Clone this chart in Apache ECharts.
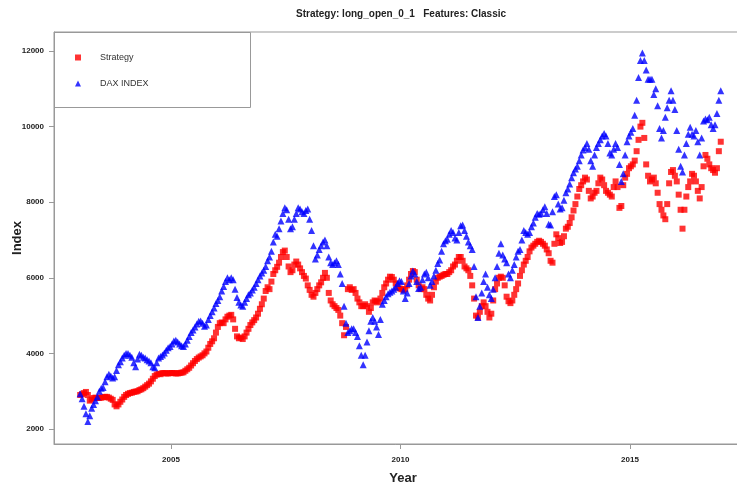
<!DOCTYPE html>
<html>
<head>
<meta charset="utf-8">
<script src="https://cdn.jsdelivr.net/npm/echarts@6/dist/echarts.min.js"></script>
<style>
  html, body { margin: 0; padding: 0; background: #fff; }
  #chart { width: 737px; height: 486px; }
</style>
</head>
<body>
<div id="chart"></div>
<script>
// Half-monthly index levels, January 2003 to December 2016 (24 per year)
const startYear = 2003;
const stepsPerYear = 24;

const strategy = [
  // 2003
  2900, 2920, 2950, 2980, 2900, 2750, 2780, 2820, 2830, 2820, 2820, 2830,
  2840, 2850, 2850, 2830, 2800, 2770, 2650, 2600, 2650, 2720, 2780, 2850,
  // 2004
  2900, 2930, 2950, 2960, 2980, 2990, 3000, 3030, 3050, 3080, 3120, 3160,
  3200, 3260, 3330, 3400, 3440, 3460, 3450, 3480, 3480, 3470, 3470, 3480,
  // 2005
  3480, 3480, 3470, 3470, 3480, 3490, 3500, 3540, 3580, 3620, 3680, 3740,
  3800, 3850, 3890, 3920, 3950, 4000, 4050, 4150, 4250, 4320, 4400, 4550,
  // 2006
  4700, 4800, 4820, 4800, 4900, 4970, 5000, 5020, 4900, 4650, 4450, 4400,
  4420, 4380, 4450, 4550, 4650, 4750, 4820, 4880, 4950, 5050, 5180, 5300,
  // 2007
  5450, 5650, 5750, 5700, 5900, 6100, 6200, 6290, 6400, 6550, 6680, 6720,
  6550, 6300, 6150, 6200, 6350, 6430, 6350, 6250, 6150, 6050, 5980, 5800,
  // 2008
  5680, 5550, 5500, 5600, 5700, 5800, 5880, 6000, 6130, 6000, 5600, 5400,
  5300, 5250, 5200, 5150, 5000, 4800, 4480, 4700, 5700, 5750, 5680, 5700,
  // 2009
  5600, 5450, 5350, 5250, 5250, 5300, 5250, 5100, 5200, 5350, 5400, 5380,
  5350, 5450, 5600, 5750, 5850, 5950, 6030, 6020, 5950, 5850, 5750, 5720,
  // 2010
  5700, 5680, 5700, 5800, 5950, 6100, 6180, 6150, 5950, 5800, 5700, 5750,
  5700, 5550, 5450, 5400, 5550, 5750, 5900, 6000, 6030, 6050, 6080, 6100,
  // 2011
  6100, 6150, 6200, 6300, 6350, 6450, 6550, 6550, 6450, 6300, 6250, 6200,
  6050, 5800, 5450, 5000, 4950, 5100, 5250, 5350, 5250, 5100, 4950, 5050,
  // 2012
  5400, 5700, 5850, 6000, 6030, 6000, 5800, 5500, 5380, 5330, 5400, 5550,
  5700, 5850, 6050, 6200, 6350, 6450, 6550, 6700, 6800, 6850, 6900, 6950,
  // 2013
  6980, 6950, 6900, 6850, 6750, 6650, 6450, 6400, 6900, 7150, 7050, 6920,
  6950, 7100, 7300, 7350, 7450, 7600, 7780, 7950, 8150, 8350, 8450, 8550,
  // 2014
  8650, 8600, 8300, 8100, 8150, 8250, 8300, 8500, 8650, 8600, 8450, 8300,
  8250, 8200, 8150, 8400, 8550, 8400, 7850, 7900, 8450, 8650, 8750, 8900,
  // 2015
  8950, 9000, 9100, 9350, 9650, 10000, 10100, 9700, 9000, 8700, 8550, 8600,
  8650, 8500, 8250, 7950, 7800, 7650, 7550, 7950, 8500, 8800, 8850, 8700,
  // 2016
  8550, 8200, 7800, 7300, 7800, 8150, 8400, 8550, 8750, 8700, 8550, 8300,
  8100, 8400, 8950, 9250, 9150, 9000, 8900, 8850, 8780, 8900, 9350, 9600
];

const dax = [
  // 2003
  2930, 2800, 2600, 2400, 2200, 2350, 2550, 2650, 2750, 2850, 3000, 3080,
  3100, 3250, 3380, 3450, 3400, 3350, 3380, 3550, 3700, 3780, 3880, 3950,
  // 2004
  4000, 4000, 3950, 3900, 3750, 3650, 3850, 3980, 3950, 3900, 3880, 3830,
  3800, 3750, 3650, 3620, 3750, 3880, 3920, 3960, 4010, 4080, 4150, 4180,
  // 2005
  4250, 4330, 4350, 4300, 4250, 4200, 4180, 4250, 4350, 4450, 4550, 4620,
  4700, 4780, 4850, 4860, 4800, 4720, 4750, 4900, 5000, 5100, 5200, 5320,
  // 2006
  5400, 5500, 5650, 5770, 5900, 6000, 5950, 6000, 5950, 5700, 5480, 5350,
  5280, 5250, 5350, 5450, 5550, 5600, 5680, 5750, 5850, 5950, 6050, 6130,
  // 2007
  6200, 6300, 6450, 6550, 6700, 6950, 7150, 7100, 7300, 7500, 7700, 7850,
  7800, 7550, 7300, 7350, 7550, 7700, 7850, 7820, 7750, 7700, 7780, 7820,
  // 2008
  7550, 7250, 6850, 6500, 6600, 6750, 6850, 6950, 7000, 6850, 6550, 6400,
  6350, 6400, 6450, 6350, 6100, 5850, 5250, 4800, 4550, 4600, 4650, 4650,
  // 2009
  4550, 4450, 4200, 3950, 3700, 3950, 4300, 4600, 4850, 4950, 4850, 4700,
  4500, 4900, 5300, 5400, 5500, 5580, 5620, 5650, 5700, 5750, 5850, 5920,
  // 2010
  5900, 5650, 5450, 5600, 5850, 6050, 6180, 6100, 5900, 5720, 5750, 5950,
  6100, 6150, 6000, 5800, 5900, 6050, 6200, 6380, 6470, 6700, 6900, 6980,
  // 2011
  7020, 7150, 7250, 7200, 7050, 7000, 7200, 7380, 7400, 7250, 7100, 6950,
  6850, 6750, 6300, 5500, 4950, 5250, 5600, 5900, 6100, 5750, 5550, 5450,
  // 2012
  5700, 6000, 6300, 6650, 6900, 6600, 6500, 6400, 6100, 6000, 6200, 6350,
  6550, 6700, 6750, 7000, 7250, 7200, 7150, 7200, 7350, 7450, 7600, 7700,
  // 2013
  7680, 7700, 7800, 7880, 7700, 7420, 7400, 7750, 8150, 8200, 7950, 7820,
  7850, 8050, 8250, 8350, 8480, 8650, 8780, 8880, 8950, 9100, 9250, 9380,
  // 2014
  9450, 9550, 9400, 9100, 8950, 9250, 9450, 9550, 9650, 9750, 9820, 9750,
  9550, 9300, 9250, 9400, 9550, 9450, 9000, 8550, 8750, 9250, 9600, 9750,
  // 2015
  9850, 9950, 10300, 10700, 11300, 11750, 11950, 11750, 11500, 11250, 11250, 11250,
  10850, 11000, 10550, 9950, 9700, 9900, 10250, 10500, 10700, 10950, 10700, 10450,
  // 2016
  9900, 9400, 8950, 8800, 9250, 9550, 9800, 9980, 9800, 9750, 9900, 9600,
  9250, 9700, 10150, 10200, 10180, 10250, 10050, 9950, 10050, 10350, 10700, 10950
];

const yearTicks = [2005, 2010, 2015];
const indexTicks = [2000, 4000, 6000, 8000, 10000, 12000];
const seriesNames = ['Strategy', 'DAX INDEX'];

// decimal-year position of each observation (middle of each half month)
const timePos = strategy.map((_, i) => startYear + (i + 0.5) / stepsPerYear);
const pairs = (vals) => vals.map((v, i) => [timePos[i], v]);

const FONT = '"Liberation Sans", Arial, Helvetica, sans-serif';
const chart = echarts.init(document.getElementById('chart'), null, { renderer: 'canvas' });

chart.setOption({
  animation: false,
  backgroundColor: '#ffffff',
  title: {
    text: 'Strategy: long_open_0_1   Features: Classic',
    left: 291,
    top: 4,
    textStyle: { fontFamily: FONT, fontSize: 10, fontWeight: 'bold', color: '#222' }
  },
  grid: {
    left: 54, top: 32, width: 698, height: 412,
    outerBoundsMode: 'none',
    containLabel: false,
    show: true, borderColor: '#999', borderWidth: 1, backgroundColor: 'transparent'
  },
  legend: {
    orient: 'vertical',
    left: 70, top: 48,
    itemWidth: 6, itemHeight: 6, itemGap: 17,
    textStyle: { fontFamily: FONT, fontSize: 9, color: '#333', padding: [0, 0, 0, 14] },
    data: [
      { name: seriesNames[0], icon: 'rect' },
      { name: seriesNames[1], icon: 'triangle' }
    ]
  },
  graphic: [{
    type: 'rect',
    shape: { x: 54.5, y: 32.5, width: 196, height: 75 },
    style: { fill: 'transparent', stroke: '#999', lineWidth: 1 },
    silent: true, z: 10
  }],
  xAxis: {
    type: 'value',
    min: 2002.45, max: 2017.66,
    name: 'Year',
    nameLocation: 'middle',
    nameGap: 28,
    nameTextStyle: { fontFamily: FONT, fontSize: 13, fontWeight: 'bold', color: '#222' },
    splitLine: { show: false },
    axisLine: { show: true, lineStyle: { color: '#999', width: 1 } },
    axisTick: { show: true, length: 5, customValues: yearTicks, lineStyle: { color: '#999' } },
    axisLabel: {
      customValues: yearTicks, margin: 12,
      fontFamily: FONT, fontSize: 8, fontWeight: 'bold', color: '#222',
      formatter: (v) => String(v)
    }
  },
  yAxis: {
    type: 'value',
    min: 1603, max: 12503,
    name: 'Index',
    nameLocation: 'middle',
    nameGap: 30,
    nameMoveOverlap: false,
    nameRotate: 90,
    nameTextStyle: { fontFamily: FONT, fontSize: 13, fontWeight: 'bold', color: '#222' },
    splitLine: { show: false },
    axisLine: { show: true, lineStyle: { color: '#999', width: 1 } },
    axisTick: { show: true, length: 5, customValues: indexTicks, lineStyle: { color: '#999' } },
    axisLabel: {
      customValues: indexTicks, margin: 10,
      fontFamily: FONT, fontSize: 8, fontWeight: 'bold', color: '#222',
      formatter: (v) => String(v)
    }
  },
  series: [
    {
      name: seriesNames[0],
      type: 'scatter',
      symbol: 'rect',
      symbolSize: 6,
      itemStyle: { color: '#ff0000' },
      data: pairs(strategy),
      z: 2
    },
    {
      name: seriesNames[1],
      type: 'scatter',
      symbol: 'triangle',
      symbolSize: 7,
      itemStyle: { color: '#0000ff' },
      data: pairs(dax),
      z: 3
    }
  ]
});
</script>
</body>
</html>
